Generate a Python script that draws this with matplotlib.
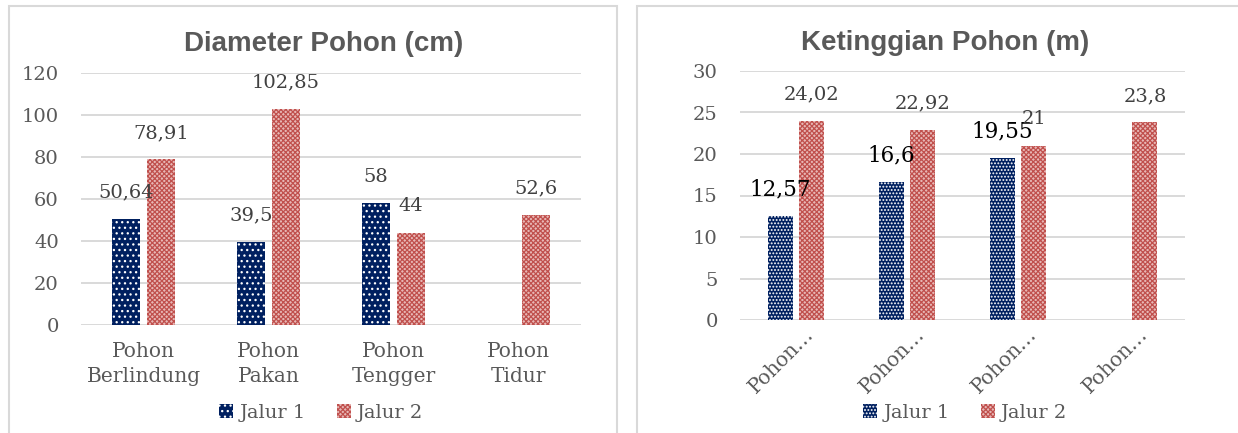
import numpy as np
import matplotlib
matplotlib.use("Agg")
from matplotlib import pyplot as plt
from matplotlib.patches import Patch, Rectangle

# data
categories = ["Pohon\nBerlindung", "Pohon\nPakan", "Pohon\nTengger", "Pohon\nTidur"]
short_labels = ["Pohon…", "Pohon…", "Pohon…", "Pohon…"]
series_names = ["Jalur 1", "Jalur 2"]
diameter_j1 = [50.64, 39.5, 58, np.nan]
diameter_j2 = [78.91, 102.85, 44, 52.6]
tinggi_j1 = [12.57, 16.6, 19.55, np.nan]
tinggi_j2 = [24.02, 22.92, 21, 23.8]
diameter_ticks = [0, 20, 40, 60, 80, 100, 120]
tinggi_ticks = [0, 5, 10, 15, 20, 25, 30]

NAVY = "#002060"
RED = "#C0504D"
RED_BG = "#E8B8B6"
GRID = "#D9D9D9"
TXT = "#595959"
SERIF = ["DejaVu Serif"]
CHECK = "xxxxxxx"

plt.rcParams["hatch.linewidth"] = 0.9

W, H = 1238, 433
fig = plt.figure(figsize=(W / 100, H / 100), dpi=100)

# chart frames
fig.patches.append(Rectangle((9 / W, -0.05), 608 / W, 1.05 - 6 / H, transform=fig.transFigure,
                             fill=False, edgecolor=GRID, lw=1.5))
fig.patches.append(Rectangle((637 / W, -0.05), 0.6, 1.05 - 6 / H, transform=fig.transFigure,
                             fill=False, edgecolor=GRID, lw=1.5))


def fmt(v):
    return f"{v:g}".replace(".", ",")


def draw(ax, j1, j2, ticks, hatch1, big_j1):
    x = np.arange(len(j1))
    w = 0.224
    off = 0.14
    b1 = ax.bar(x - off, j1, w, facecolor=NAVY, edgecolor="white", hatch=hatch1, lw=0)
    b2 = ax.bar(x + off, j2, w, facecolor=RED_BG, edgecolor=RED, hatch=CHECK, lw=0)
    ax.set_xlim(-0.5, len(j1) - 0.5)
    ax.set_ylim(ticks[0], ticks[-1])
    ax.set_yticks(ticks)
    ax.set_yticklabels([str(t) for t in ticks], fontfamily=SERIF, fontsize=14, color=TXT)
    ax.tick_params(axis="y", length=0, pad=16)
    ax.tick_params(axis="x", length=0)
    ax.yaxis.grid(True, color=GRID, lw=1.4)
    ax.set_axisbelow(True)
    for s in ax.spines.values():
        s.set_visible(False)
    for xi, v in zip(x, j1):
        if np.isnan(v):
            continue
        if big_j1:
            ax.annotate(fmt(v), (xi - off, v), xytext=(0, 19), textcoords="offset points",
                        ha="center", va="center", fontfamily=SERIF, fontsize=15.5, color="black")
        else:
            ax.annotate(fmt(v), (xi - off, v), xytext=(0, 19), textcoords="offset points",
                        ha="center", va="center", fontfamily=SERIF, fontsize=14, color="#404040")
    for xi, v in zip(x, j2):
        ax.annotate(fmt(v), (xi + off, v), xytext=(0, 19), textcoords="offset points",
                    ha="center", va="center", fontfamily=SERIF, fontsize=14, color="#404040")
    return b1, b2


# left chart
ax1 = fig.add_axes([81 / W, 1 - 325 / H, 500 / W, 252 / H])
draw(ax1, diameter_j1, diameter_j2, diameter_ticks, "...", False)
ax1.set_xticks(np.arange(len(categories)))
ax1.set_xticklabels(categories, fontfamily=SERIF, fontsize=14.5, color=TXT, linespacing=1.45)
ax1.tick_params(axis="x", pad=12)
fig.text(324 / W, 1 - 44 / H, "Diameter Pohon (cm)", ha="center", va="center",
         fontfamily="Liberation Sans", fontweight="bold", fontsize=20, color=TXT)

# right chart
ax2 = fig.add_axes([740 / W, 1 - 320 / H, 445 / W, 249 / H])
draw(ax2, tinggi_j1, tinggi_j2, tinggi_ticks, ".....", True)
ax2.set_xticks(np.arange(len(short_labels)))
ax2.set_xticklabels([])
for i, lab in enumerate(short_labels):
    ax2.annotate(lab, (i, 0), xycoords=("data", "axes fraction"), xytext=(11, -8),
                 textcoords="offset points", ha="right", va="center", rotation=45,
                 rotation_mode="anchor", fontfamily=SERIF, fontsize=14.5, color=TXT)
fig.text(945 / W, 1 - 43 / H, "Ketinggian Pohon (m)", ha="center", va="center",
         fontfamily="Liberation Sans", fontweight="bold", fontsize=20, color=TXT)

# legends
for cx, h1 in [(321 / W, "..."), (965 / W, ".....")]:
    handles = [Patch(facecolor=NAVY, edgecolor="white", hatch=h1, lw=0),
               Patch(facecolor=RED_BG, edgecolor=RED, hatch=CHECK, lw=0)]
    fig.legend(handles, series_names, loc="center", bbox_to_anchor=(cx, 1 - 413 / H), ncol=2,
               frameon=False, prop={"family": SERIF, "size": 14}, labelcolor=TXT,
               handlelength=0.75, handleheight=0.75, handletextpad=0.3, columnspacing=1.6)

fig.savefig("out.png", dpi=100)
